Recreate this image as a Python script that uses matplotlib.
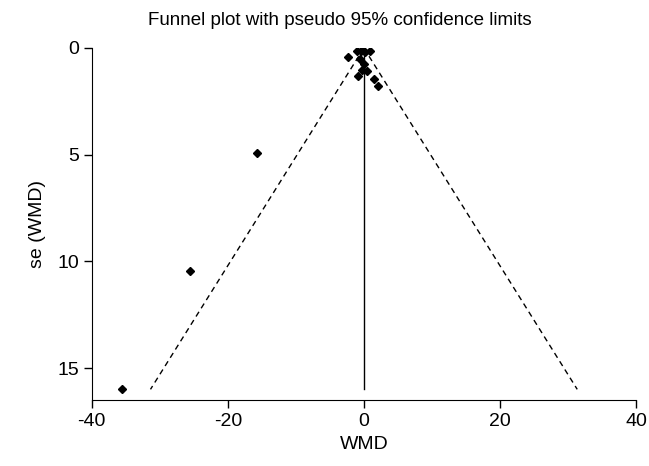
import numpy as np
import matplotlib as mpl
mpl.use('Agg')
import matplotlib.pyplot as plt

plt.rcParams['font.family'] = ['Liberation Sans', 'DejaVu Sans']
plt.rcParams['axes.unicode_minus'] = False

# study effects (WMD) and their standard errors
wmd = [-2.3, -1.0, -0.4, 0.2, 0.9, -0.5, 0.0, -0.3, 0.4, -0.8, 1.5, 2.1,
       -15.7, -25.6, -35.5]
se = [0.4, 0.15, 0.12, 0.2, 0.15, 0.5, 0.75, 1.05, 1.1, 1.3, 1.45, 1.8,
      4.93, 10.47, 16.0]
pooled = 0.0

xticks = [-40, -20, 0, 20, 40]
yticks = [0, 5, 10, 15]

fontsize = 14

fig = plt.figure(figsize=(6.49, 4.66), dpi=100)
ax = fig.add_axes([0.1413, 0.1416, 0.98 - 0.1413, 0.897 - 0.1416])

semax = max(se)
sev = np.array([0.0, semax])
ax.plot(pooled - 1.96 * sev, sev, color='black', linewidth=1,
        linestyle=(0, (4, 3)))
ax.plot(pooled + 1.96 * sev, sev, color='black', linewidth=1,
        linestyle=(0, (4, 3)))
ax.plot([pooled, pooled], [0, semax], color='black', linewidth=1)
ax.plot(wmd, se, linestyle='none', marker='D', markersize=4.2,
        color='black')

ax.set_xlim(-40, 40)
ax.set_ylim(16.5, 0)
ax.set_xticks(xticks)
ax.set_yticks(yticks)
ax.spines['top'].set_visible(False)
ax.spines['right'].set_visible(False)
ax.tick_params(axis='both', direction='out', length=6, width=1,
               labelsize=fontsize, pad=3)

ax.set_xlabel('WMD', fontsize=fontsize, labelpad=5)
ax.set_ylabel('se (WMD)', fontsize=fontsize, labelpad=8)
fig.text(0.524, 0.957, 'Funnel plot with pseudo 95% confidence limits',
         fontsize=13.5, ha='center', va='center')

plt.savefig('out.png', dpi=100)
